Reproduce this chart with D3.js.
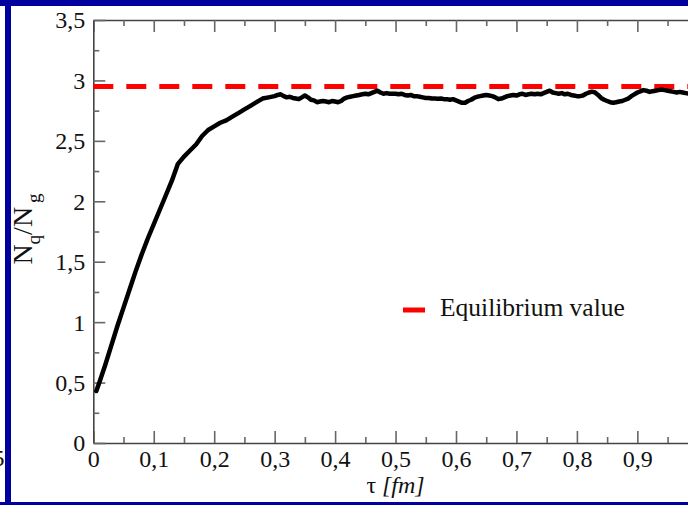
<!DOCTYPE html>
<html>
<head>
<meta charset="utf-8">
<script src="https://cdn.jsdelivr.net/npm/d3@7"></script>
<style>
  html, body { margin: 0; padding: 0; background: #fff; }
  svg { display: block; }
</style>
</head>
<body>
<svg id="chart" width="688" height="505"></svg>
<script>
// ---- data ----
const tau = [0.005,0.01,0.02,0.03,0.04,0.05,0.06,0.07,0.08,0.09,0.10,0.11,0.12,0.13,0.14,0.15,0.16,0.17,0.18,0.19,0.20,0.21,0.22,0.23,0.24,0.25,0.26,0.27,0.28,0.29,0.30,
0.305,0.31,0.315,0.32,0.325,0.33,0.335,0.34,0.345,0.35,0.355,0.36,0.365,0.37,0.375,0.38,0.385,0.39,0.395,0.40,0.405,0.41,0.415,0.42,0.425,0.43,0.435,0.44,0.445,0.45,0.455,0.46,0.465,0.47,0.475,0.48,0.485,0.49,0.50,
0.505,0.51,0.515,0.52,0.525,0.53,0.535,0.54,0.545,0.55,0.555,0.56,0.565,0.57,0.575,0.58,0.585,0.59,0.595,0.60,0.605,0.61,0.615,0.62,0.625,0.63,0.635,0.64,0.645,0.65,0.655,0.66,0.665,0.67,0.675,0.68,0.685,0.69,0.695,0.70,
0.705,0.71,0.715,0.72,0.725,0.73,0.735,0.74,0.745,0.75,0.755,0.76,0.765,0.77,0.775,0.78,0.785,0.79,0.795,0.80,0.805,0.81,0.815,0.82,0.825,0.83,0.835,0.84,0.845,0.85,0.855,0.86,0.865,0.87,0.875,0.88,0.885,0.89,0.895,0.90,
0.905,0.91,0.915,0.92,0.925,0.93,0.935,0.94,0.945,0.95,0.955,0.96,0.965,0.97,0.975,0.98,0.985,0.99,0.995,1.0];
const ratio = [0.43,0.50,0.65,0.81,0.97,1.12,1.27,1.42,1.56,1.69,1.81,1.93,2.05,2.17,2.31,2.37,2.42,2.47,2.54,2.59,2.62,2.65,2.67,2.70,2.73,2.76,2.79,2.82,2.85,2.86,2.87,
2.88,2.885,2.87,2.86,2.865,2.855,2.85,2.845,2.86,2.875,2.86,2.84,2.835,2.82,2.825,2.83,2.825,2.82,2.83,2.825,2.82,2.83,2.85,2.86,2.865,2.87,2.875,2.88,2.885,2.89,2.885,2.895,2.905,2.915,2.9,2.89,2.895,2.89,2.89,
2.885,2.89,2.88,2.875,2.88,2.87,2.87,2.865,2.86,2.855,2.855,2.85,2.85,2.848,2.85,2.845,2.845,2.84,2.845,2.835,2.825,2.815,2.815,2.83,2.84,2.855,2.865,2.87,2.875,2.88,2.875,2.87,2.86,2.845,2.85,2.86,2.87,2.875,2.88,2.875,
2.885,2.89,2.88,2.885,2.89,2.885,2.89,2.885,2.895,2.905,2.915,2.9,2.895,2.89,2.895,2.885,2.89,2.88,2.875,2.87,2.87,2.875,2.89,2.9,2.907,2.9,2.88,2.855,2.84,2.83,2.82,2.815,2.82,2.825,2.83,2.84,2.85,2.87,2.885,2.9,
2.91,2.92,2.915,2.905,2.91,2.915,2.92,2.925,2.92,2.915,2.91,2.905,2.9,2.905,2.9,2.895,2.89,2.895,2.89,2.885];
const equilibrium = 2.95;
const xMajor = [0,0.1,0.2,0.3,0.4,0.5,0.6,0.7,0.8,0.9];
const xMinor = [0.05,0.15,0.25,0.35,0.45,0.55,0.65,0.75,0.85,0.95];
const yMajor = [0,0.5,1,1.5,2,2.5,3,3.5];
const yMinor = [0.25,0.75,1.25,1.75,2.25,2.75,3.25];
const fmt = d => String(+d.toFixed(2)).replace('.', ',');

const FONT = "'Liberation Serif', 'Times New Roman', Times, 'DejaVu Serif', serif";

// ---- layout ----
const svg = d3.select('#chart').attr('font-family', FONT);
const x = d3.scaleLinear().domain([0, 1]).range([93.3, 697.8]);
const y = d3.scaleLinear().domain([0, 3.5]).range([443, 20]);
const blue = '#00009e';

svg.append('rect').attr('width', 688).attr('height', 505).attr('fill', '#fff');

function txt(sel) { return sel.attr('font-family', FONT).attr('fill', '#111'); }

// partial text from the neighbouring slide, cut by the left edge
txt(svg.append('text')).attr('x', 4.5).attr('y', 466).attr('text-anchor', 'end')
  .attr('font-size', 24).text('5');

function styleAxis(g) {
  g.attr('font-family', FONT);
  g.select('.domain').attr('stroke', '#444').attr('stroke-width', 1.6);
  g.selectAll('.tick line').attr('stroke', '#666').attr('stroke-width', 1.6);
  g.selectAll('text').attr('font-size', 24).attr('fill', '#111').attr('font-family', FONT);
}

// bottom axis
const gxB = svg.append('g').attr('transform', `translate(0,${y(0)})`)
  .call(d3.axisBottom(x).tickValues(xMajor).tickSizeInner(-12).tickSizeOuter(0).tickFormat(fmt));
styleAxis(gxB);
gxB.selectAll('text').attr('dy', null).attr('y', 24);
svg.append('g').attr('transform', `translate(0,${y(0)})`)
  .call(d3.axisBottom(x).tickValues(xMinor).tickSizeInner(-6).tickSizeOuter(0).tickFormat(''))
  .call(g => { g.select('.domain').remove(); g.selectAll('.tick line').attr('stroke', '#666').attr('stroke-width', 1.6); });

// top axis (mirror)
const gxT = svg.append('g').attr('transform', `translate(0,${y(3.5)})`)
  .call(d3.axisTop(x).tickValues(xMajor).tickSizeInner(-12).tickSizeOuter(0).tickFormat(''));
styleAxis(gxT);
svg.append('g').attr('transform', `translate(0,${y(3.5)})`)
  .call(d3.axisTop(x).tickValues(xMinor).tickSizeInner(-6).tickSizeOuter(0).tickFormat(''))
  .call(g => { g.select('.domain').remove(); g.selectAll('.tick line').attr('stroke', '#666').attr('stroke-width', 1.6); });

// left axis
const gyL = svg.append('g').attr('transform', `translate(${x(0)},0)`)
  .call(d3.axisLeft(y).tickValues(yMajor).tickSizeInner(-12).tickSizeOuter(0).tickFormat(fmt));
styleAxis(gyL);
gyL.selectAll('text').attr('x', -8).attr('dy', '0.33em');
svg.append('g').attr('transform', `translate(${x(0)},0)`)
  .call(d3.axisLeft(y).tickValues(yMinor).tickSizeInner(-6).tickSizeOuter(0).tickFormat(''))
  .call(g => { g.select('.domain').remove(); g.selectAll('.tick line').attr('stroke', '#666').attr('stroke-width', 1.6); });

// equilibrium dashed line
svg.append('line')
  .attr('x1', x(0)).attr('x2', x(1))
  .attr('y1', y(equilibrium)).attr('y2', y(equilibrium))
  .attr('stroke', '#ff0000').attr('stroke-width', 5).attr('stroke-dasharray', '20,13');

// curve
const pts = tau.map((t, i) => [t, ratio[i]]);
svg.append('path').datum(pts)
  .attr('fill', 'none').attr('stroke', '#000').attr('stroke-width', 4.5)
  .attr('stroke-linejoin', 'round').attr('stroke-linecap', 'round')
  .attr('d', d3.line().x(d => x(d[0])).y(d => y(d[1])));

// legend
svg.append('line').attr('x1', 403).attr('x2', 425).attr('y1', 310).attr('y2', 310)
  .attr('stroke', '#ff0000').attr('stroke-width', 5);
txt(svg.append('text')).attr('x', 440).attr('y', 316).attr('font-size', 25.5).text('Equilibrium value');

// x title
const xt = txt(svg.append('text')).attr('x', x(0.5)).attr('y', 493).attr('text-anchor', 'middle').attr('font-size', 24);
xt.append('tspan').text('τ ');
xt.append('tspan').attr('font-style', 'italic').text('[fm]');

// y title
const yt = txt(svg.append('text')).attr('transform', 'translate(32,229) rotate(-90)').attr('text-anchor', 'middle').attr('font-size', 28);
yt.append('tspan').text('N');
yt.append('tspan').attr('dy', 8).attr('font-size', 19).text('q');
yt.append('tspan').attr('dy', -8).text('/N');
yt.append('tspan').attr('dy', 8).attr('dx', 4).attr('font-size', 19).text('g');

// blue frame
svg.append('rect').attr('x', 0).attr('y', 0).attr('width', 688).attr('height', 6).attr('fill', blue);
svg.append('rect').attr('x', 5).attr('y', 0).attr('width', 6).attr('height', 505).attr('fill', blue);
svg.append('rect').attr('x', 0).attr('y', 502).attr('width', 688).attr('height', 3).attr('fill', blue);
</script>
</body>
</html>
